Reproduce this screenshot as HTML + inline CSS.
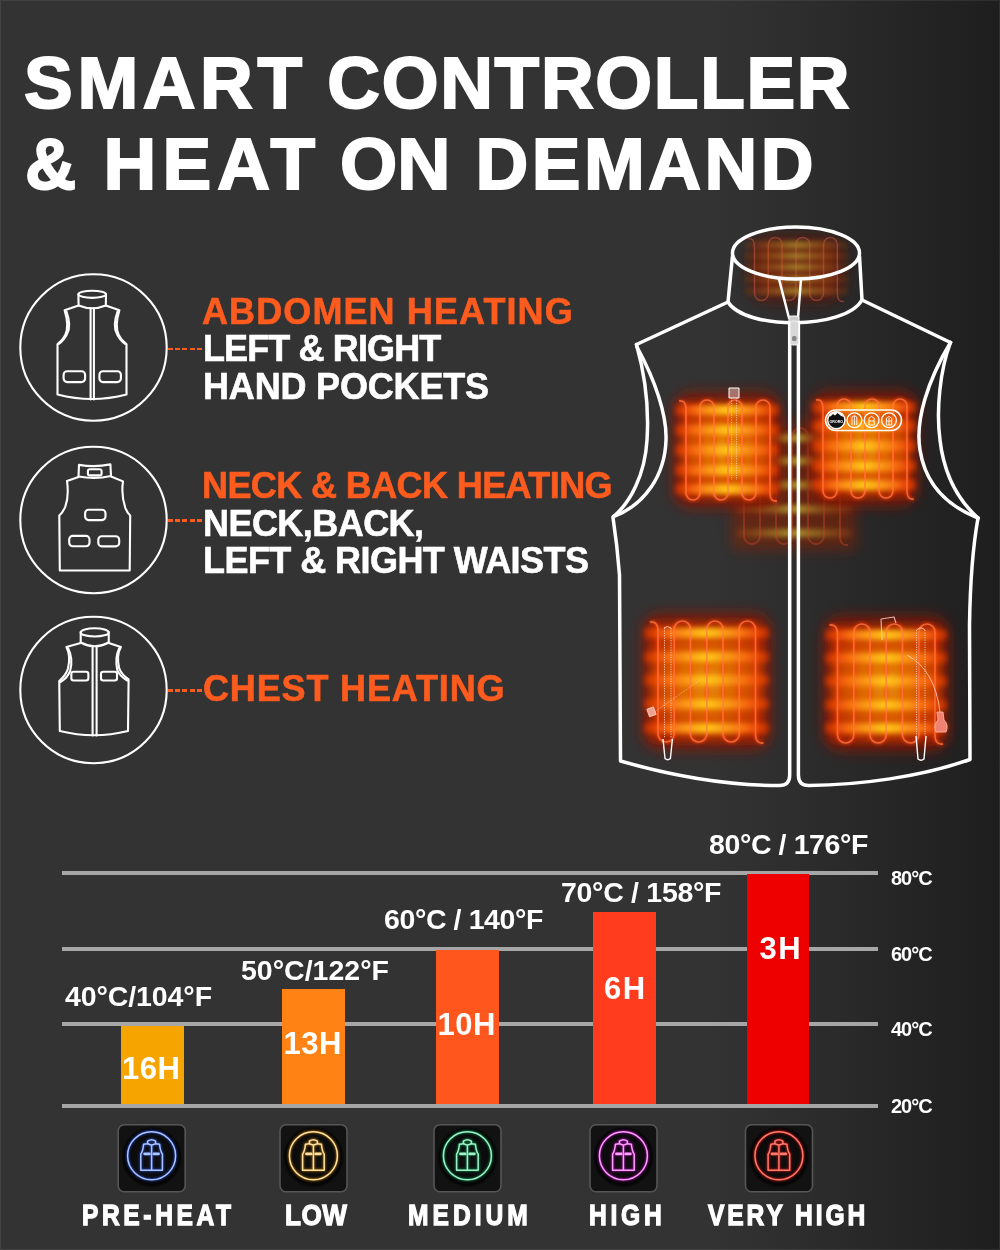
<!DOCTYPE html>
<html><head><meta charset="utf-8">
<style>
*{margin:0;padding:0;box-sizing:border-box}
html,body{width:1000px;height:1250px;overflow:hidden}
body{position:relative;background:linear-gradient(90deg,#333 0%,#333 71%,#2e2e2e 79%,#262626 89%,#1e1e1e 100%);font-family:"Liberation Sans",Arial,sans-serif;color:#fff}
.t{position:absolute;white-space:nowrap;font-weight:bold;line-height:1}
.title{font-size:73px;-webkit-text-stroke:2px #fff;transform-origin:0 0}
.or{color:#fe5b1e}
.sub{font-size:36px;left:201px;-webkit-text-stroke:0.6px currentColor}
.dash{position:absolute;height:2.5px;background:repeating-linear-gradient(90deg,#fe5b1e 0 5px,transparent 5px 7.2px)}
.grid{position:absolute;left:62px;width:816px;height:4px;background:#a6a6a6}
.bar{position:absolute}
.bl{font-size:28.5px}
.bh{font-size:31px;letter-spacing:0.5px}
.ax{font-size:20px;left:891px;letter-spacing:-1px}
.lab{font-size:30px;top:1200px;transform-origin:0 0;-webkit-text-stroke:1.3px #fff}
</style></head><body>
<!--ART--><svg id="art" width="1000" height="1250" viewBox="0 0 1000 1250" style="position:absolute;left:0;top:0">
<defs>
<filter id="b8" filterUnits="userSpaceOnUse" x="-1200" y="-1300" width="2400" height="2600"><feGaussianBlur stdDeviation="7"/></filter>
<filter id="b6" filterUnits="userSpaceOnUse" x="-1200" y="-1300" width="2400" height="2600"><feGaussianBlur stdDeviation="5"/></filter>
<filter id="b3" filterUnits="userSpaceOnUse" x="-1200" y="-1300" width="2400" height="2600"><feGaussianBlur stdDeviation="2.6"/></filter>
<filter id="b15" filterUnits="userSpaceOnUse" x="-1200" y="-1300" width="2400" height="2600"><feGaussianBlur stdDeviation="1.5"/></filter>
<filter id="b07" filterUnits="userSpaceOnUse" x="-1200" y="-1300" width="2400" height="2600"><feGaussianBlur stdDeviation="0.6"/></filter>
<filter id="glow" filterUnits="userSpaceOnUse" x="-1200" y="-1300" width="2400" height="2600"><feGaussianBlur stdDeviation="1.2" result="b"/><feMerge><feMergeNode in="b"/><feMergeNode in="SourceGraphic"/></feMerge></filter>
<radialGradient id="core" cx="50%" cy="50%" r="60%"><stop offset="0" stop-color="#e8900c"/><stop offset="0.45" stop-color="#dc6200"/><stop offset="1" stop-color="#b82600"/></radialGradient>
<linearGradient id="band" x1="0" x2="1" y1="0" y2="0"><stop offset="0" stop-color="#f03800" stop-opacity="0.5"/><stop offset="0.2" stop-color="#f87010"/><stop offset="0.5" stop-color="#ffc818"/><stop offset="0.8" stop-color="#f87010"/><stop offset="1" stop-color="#f03800" stop-opacity="0.5"/></linearGradient>
<linearGradient id="bandg" x1="0" x2="1" y1="0" y2="0"><stop offset="0" stop-color="#a04010" stop-opacity="0.35"/><stop offset="0.5" stop-color="#c0b030" stop-opacity="0.9"/><stop offset="1" stop-color="#a04010" stop-opacity="0.35"/></linearGradient>
<filter id="ig" filterUnits="userSpaceOnUse" x="-1200" y="-1300" width="2400" height="2600"><feGaussianBlur stdDeviation="1.1"/></filter>
<radialGradient id="btn" cx="50%" cy="50%" r="50%"><stop offset="0" stop-color="#101010"/><stop offset="0.78" stop-color="#0a0a0a"/><stop offset="0.9" stop-color="#050505"/><stop offset="1" stop-color="#050505" stop-opacity="0"/></radialGradient>
<linearGradient id="bandd" x1="0" x2="1" y1="0" y2="0"><stop offset="0" stop-color="#a04010" stop-opacity="0.2"/><stop offset="0.5" stop-color="#b8a030" stop-opacity="0.75"/><stop offset="1" stop-color="#a04010" stop-opacity="0.2"/></linearGradient>
</defs>
<g fill="none" stroke="#fff" stroke-width="2.1" stroke-linejoin="round" stroke-linecap="round">
<circle cx="93.5" cy="347.5" r="73.2"/>
<circle cx="93.5" cy="520" r="73.2"/>
<circle cx="93.5" cy="690" r="73.2"/>
<ellipse cx="92.2" cy="294.3" rx="13.8" ry="3.6"/>
<path d="M78.4,294.3 L78.6,305.5 Q92.2,311 105.8,305.5 L106,294.3"/>
<path d="M78.6,305.5 L64.6,310.2 C67,318 68.5,328 65.3,335 C63.5,339 60.5,342 57.5,344 L57.5,394.5 Q92,403.5 126.5,394.5 L126.5,344 C123.5,342 120.5,339 118.7,335 C115.5,328 117,318 119.4,310.2 L105.8,305.5"/>
<path d="M66.4,311.4 C69.5,320 70,329 67,334 C65,338.5 62,341.5 58.8,343.8 M117.6,311.4 C114.5,320 114,329 117,334 C119,338.5 122,341.5 125.2,343.8"/>
<path d="M90.6,308 L90.6,399.5 M93.9,308 L93.9,399.5"/>
<rect x="63.6" y="371.3" width="21.5" height="10.8" rx="3.5"/>
<rect x="99.4" y="371.3" width="21.5" height="10.8" rx="3.5"/>
<path d="M79,464.9 Q95,467.5 110.4,464.4 L111,476 Q95,479.5 78.5,476.5 Z"/>
<rect x="87.9" y="469.3" width="13.7" height="6.1" rx="2"/>
<path d="M78.5,477 L67,480.9 C68,488 68.5,498 65.3,506.7 C63.5,511 61.5,513.5 59.3,515.5 L59.8,570.5 L129.7,570.5 L130.2,515.5 C128,513.5 126.5,511 125.3,507.8 C122,498 122,488 123,481.4 L111,476.5"/>
<rect x="85.1" y="509.7" width="20.4" height="10.4" rx="3.5"/>
<rect x="69.2" y="535.9" width="20.3" height="10.4" rx="3.5"/>
<rect x="98.3" y="536.2" width="20.9" height="10.2" rx="3.5"/>
<ellipse cx="94.7" cy="632.4" rx="14" ry="4.1"/>
<path d="M80.7,632 L80.7,642.5 Q94.7,650 108.75,642.5 L108.75,632"/>
<path d="M80.7,643 L66.4,647 C69,652 70,660 68,668.4 C66.5,674 62.5,678 59.25,681 L59.8,731.1 Q94,739.5 128,731.1 L128.6,679.4 C125,677 121,673 119.2,668.4 C117.5,661 117.5,653 120.9,647 L108.75,643"/>
<path d="M68,648 C71,654 72.5,662 70.2,670.6 C68.5,676 64.5,679.5 60.5,682 M119.3,648 C116.5,654 115.5,662 117.3,670 C119,675 123,678 127.2,680.5"/>
<path d="M92.6,647 L92.6,735.5 M96.6,647 L96.6,735.5"/>
<rect x="71.35" y="671.7" width="17" height="8.8" rx="2.2"/>
<rect x="101" y="671.7" width="16" height="8.8" rx="2.2"/>
</g>
<clipPath id="cc"><ellipse cx="796" cy="253" rx="63.5" ry="26"/><path d="M732.5,253 L728,302 C745,330 845,330 862,300 L859.5,253 Z"/></clipPath>
<g clip-path="url(#cc)">
<g opacity="1">
<rect x="749" y="235.5" width="95" height="67.0" rx="20" fill="#5a1808" opacity="0.75" filter="url(#b8)"/>
<rect x="759" y="243.5" width="75" height="51.0" fill="#7a2808" opacity="0.6" filter="url(#b6)"/>
<rect x="745" y="241.5" width="103" height="7" fill="url(#bandd)" filter="url(#b3)"/>
<rect x="745" y="252.5" width="103" height="7" fill="url(#bandd)" filter="url(#b3)"/>
<rect x="745" y="263.5" width="103" height="7" fill="url(#bandd)" filter="url(#b3)"/>
<rect x="745" y="275.5" width="103" height="7" fill="url(#bandd)" filter="url(#b3)"/>
<rect x="745" y="287.5" width="103" height="7" fill="url(#bandd)" filter="url(#b3)"/>
<path d="M747.6,238.5 Q754.5,237.5 754.5,246.4 L754.5,293.6 A6.9,6.9 0 0 0 768.3,293.6 L768.3,244.4 A6.9,6.9 0 0 1 782.1,244.4 L782.1,293.6 A6.9,6.9 0 0 0 795.9,293.6 L795.9,244.4 A6.9,6.9 0 0 1 809.7,244.4 L809.7,293.6 A6.9,6.9 0 0 0 823.5,293.6 L823.5,244.4 A6.9,6.9 0 0 1 837.3,244.4 L837.3,293.6 Q837.3,302.5 844.2,301.5" fill="none" stroke="#d86040" stroke-width="1.5" opacity="0.45" filter="url(#b07)"/>
</g>
</g>
<g opacity="0.9">
<rect x="732" y="422" width="124" height="128" fill="#8a2000" opacity="0.6" filter="url(#b8)"/>
<rect x="736" y="434" width="116" height="8" fill="url(#bandg)" filter="url(#b3)"/>
<rect x="736" y="457" width="116" height="8" fill="url(#bandg)" filter="url(#b3)"/>
<rect x="736" y="481" width="116" height="8" fill="url(#bandg)" filter="url(#b3)"/>
<rect x="736" y="505" width="116" height="8" fill="url(#bandg)" filter="url(#b3)"/>
<rect x="736" y="529" width="116" height="8" fill="url(#bandg)" filter="url(#b3)"/>
<path d="M736.0,429.0 Q744.0,428.0 744.0,438.0 L744.0,536.0 A8.0,8.0 0 0 0 760.0,536.0 L760.0,436.0 A8.0,8.0 0 0 1 776.0,436.0 L776.0,536.0 A8.0,8.0 0 0 0 792.0,536.0 L792.0,436.0 A8.0,8.0 0 0 1 808.0,436.0 L808.0,536.0 A8.0,8.0 0 0 0 824.0,536.0 L824.0,436.0 A8.0,8.0 0 0 1 840.0,436.0 L840.0,536.0 Q840.0,546.0 848.0,545.0" fill="none" stroke="#d84a28" stroke-width="1.8" opacity="0.45" filter="url(#b07)"/>
</g>
<g opacity="1.0">
<rect x="673" y="392" width="108" height="116" rx="18" fill="#8a1600" opacity="0.8" filter="url(#b8)"/>
<rect x="681" y="403" width="92" height="94" fill="url(#core)" filter="url(#b6)"/>
<path d="M679.0,401.0 Q686.0,400.0 686.0,409.0 L686.0,493.0 A7.0,7.0 0 0 0 700.0,493.0 L700.0,407.0 A7.0,7.0 0 0 1 714.0,407.0 L714.0,493.0 A7.0,7.0 0 0 0 728.0,493.0 L728.0,407.0 A7.0,7.0 0 0 1 742.0,407.0 L742.0,493.0 A7.0,7.0 0 0 0 756.0,493.0 L756.0,407.0 A7.0,7.0 0 0 1 770.0,407.0 L770.0,493.0 Q770.0,502.0 777.0,501.0" fill="none" stroke="#ff3a10" stroke-width="3.5" opacity="0.55" filter="url(#b15)"/>
<rect x="675" y="405" width="104" height="10" fill="url(#band)" filter="url(#b3)"/>
<rect x="675" y="425" width="104" height="10" fill="url(#band)" filter="url(#b3)"/>
<rect x="675" y="445" width="104" height="10" fill="url(#band)" filter="url(#b3)"/>
<rect x="675" y="465" width="104" height="10" fill="url(#band)" filter="url(#b3)"/>
<rect x="675" y="484" width="104" height="10" fill="url(#band)" filter="url(#b3)"/>
<path d="M679.0,401.0 Q686.0,400.0 686.0,409.0 L686.0,493.0 A7.0,7.0 0 0 0 700.0,493.0 L700.0,407.0 A7.0,7.0 0 0 1 714.0,407.0 L714.0,493.0 A7.0,7.0 0 0 0 728.0,493.0 L728.0,407.0 A7.0,7.0 0 0 1 742.0,407.0 L742.0,493.0 A7.0,7.0 0 0 0 756.0,493.0 L756.0,407.0 A7.0,7.0 0 0 1 770.0,407.0 L770.0,493.0 Q770.0,502.0 777.0,501.0" fill="none" stroke="#ff7a40" stroke-width="1.6" opacity="0.75" filter="url(#b07)"/>
</g>
<g opacity="1.0">
<rect x="810" y="391" width="108" height="115" rx="18" fill="#8a1600" opacity="0.8" filter="url(#b8)"/>
<rect x="818" y="402" width="92" height="93" fill="url(#core)" filter="url(#b6)"/>
<path d="M816.0,400.0 Q823.0,399.0 823.0,408.0 L823.0,491.0 A7.0,7.0 0 0 0 837.0,491.0 L837.0,406.0 A7.0,7.0 0 0 1 851.0,406.0 L851.0,491.0 A7.0,7.0 0 0 0 865.0,491.0 L865.0,406.0 A7.0,7.0 0 0 1 879.0,406.0 L879.0,491.0 A7.0,7.0 0 0 0 893.0,491.0 L893.0,406.0 A7.0,7.0 0 0 1 907.0,406.0 L907.0,491.0 Q907.0,500.0 914.0,499.0" fill="none" stroke="#ff3a10" stroke-width="3.5" opacity="0.55" filter="url(#b15)"/>
<rect x="812" y="402" width="104" height="10" fill="url(#band)" filter="url(#b3)"/>
<rect x="812" y="421" width="104" height="10" fill="url(#band)" filter="url(#b3)"/>
<rect x="812" y="441" width="104" height="10" fill="url(#band)" filter="url(#b3)"/>
<rect x="812" y="461" width="104" height="10" fill="url(#band)" filter="url(#b3)"/>
<rect x="812" y="480" width="104" height="10" fill="url(#band)" filter="url(#b3)"/>
<path d="M816.0,400.0 Q823.0,399.0 823.0,408.0 L823.0,491.0 A7.0,7.0 0 0 0 837.0,491.0 L837.0,406.0 A7.0,7.0 0 0 1 851.0,406.0 L851.0,491.0 A7.0,7.0 0 0 0 865.0,491.0 L865.0,406.0 A7.0,7.0 0 0 1 879.0,406.0 L879.0,491.0 A7.0,7.0 0 0 0 893.0,491.0 L893.0,406.0 A7.0,7.0 0 0 1 907.0,406.0 L907.0,491.0 Q907.0,500.0 914.0,499.0" fill="none" stroke="#ff7a40" stroke-width="1.6" opacity="0.75" filter="url(#b07)"/>
</g>
<g opacity="1.0">
<rect x="642" y="613" width="129" height="137" rx="18" fill="#8a1600" opacity="0.8" filter="url(#b8)"/>
<rect x="650" y="624" width="113" height="115" fill="url(#core)" filter="url(#b6)"/>
<path d="M649.9,622.0 Q658.0,621.0 658.0,631.1 L658.0,733.9 A8.1,8.1 0 0 0 674.2,733.9 L674.2,629.1 A8.1,8.1 0 0 1 690.5,629.1 L690.5,733.9 A8.1,8.1 0 0 0 706.8,733.9 L706.8,629.1 A8.1,8.1 0 0 1 723.0,629.1 L723.0,733.9 A8.1,8.1 0 0 0 739.2,733.9 L739.2,629.1 A8.1,8.1 0 0 1 755.5,629.1 L755.5,733.9 Q755.5,744.0 763.6,743.0" fill="none" stroke="#ff3a10" stroke-width="3.5" opacity="0.55" filter="url(#b15)"/>
<rect x="644" y="628" width="125" height="10" fill="url(#band)" filter="url(#b3)"/>
<rect x="644" y="652" width="125" height="10" fill="url(#band)" filter="url(#b3)"/>
<rect x="644" y="675" width="125" height="10" fill="url(#band)" filter="url(#b3)"/>
<rect x="644" y="699" width="125" height="10" fill="url(#band)" filter="url(#b3)"/>
<rect x="644" y="723" width="125" height="10" fill="url(#band)" filter="url(#b3)"/>
<path d="M649.9,622.0 Q658.0,621.0 658.0,631.1 L658.0,733.9 A8.1,8.1 0 0 0 674.2,733.9 L674.2,629.1 A8.1,8.1 0 0 1 690.5,629.1 L690.5,733.9 A8.1,8.1 0 0 0 706.8,733.9 L706.8,629.1 A8.1,8.1 0 0 1 723.0,629.1 L723.0,733.9 A8.1,8.1 0 0 0 739.2,733.9 L739.2,629.1 A8.1,8.1 0 0 1 755.5,629.1 L755.5,733.9 Q755.5,744.0 763.6,743.0" fill="none" stroke="#ff7a40" stroke-width="1.6" opacity="0.75" filter="url(#b07)"/>
</g>
<g opacity="1.0">
<rect x="823" y="616" width="126" height="135" rx="18" fill="#8a1600" opacity="0.8" filter="url(#b8)"/>
<rect x="831" y="627" width="110" height="113" fill="url(#core)" filter="url(#b6)"/>
<path d="M829.4,625.0 Q837.5,624.0 837.5,634.1 L837.5,734.9 A8.1,8.1 0 0 0 853.8,734.9 L853.8,632.1 A8.1,8.1 0 0 1 870.0,632.1 L870.0,734.9 A8.1,8.1 0 0 0 886.2,734.9 L886.2,632.1 A8.1,8.1 0 0 1 902.5,632.1 L902.5,734.9 A8.1,8.1 0 0 0 918.8,734.9 L918.8,632.1 A8.1,8.1 0 0 1 935.0,632.1 L935.0,734.9 Q935.0,745.0 943.1,744.0" fill="none" stroke="#ff3a10" stroke-width="3.5" opacity="0.55" filter="url(#b15)"/>
<rect x="825" y="630" width="122" height="10" fill="url(#band)" filter="url(#b3)"/>
<rect x="825" y="653" width="122" height="10" fill="url(#band)" filter="url(#b3)"/>
<rect x="825" y="676" width="122" height="10" fill="url(#band)" filter="url(#b3)"/>
<rect x="825" y="700" width="122" height="10" fill="url(#band)" filter="url(#b3)"/>
<rect x="825" y="723" width="122" height="10" fill="url(#band)" filter="url(#b3)"/>
<path d="M829.4,625.0 Q837.5,624.0 837.5,634.1 L837.5,734.9 A8.1,8.1 0 0 0 853.8,734.9 L853.8,632.1 A8.1,8.1 0 0 1 870.0,632.1 L870.0,734.9 A8.1,8.1 0 0 0 886.2,734.9 L886.2,632.1 A8.1,8.1 0 0 1 902.5,632.1 L902.5,734.9 A8.1,8.1 0 0 0 918.8,734.9 L918.8,632.1 A8.1,8.1 0 0 1 935.0,632.1 L935.0,734.9 Q935.0,745.0 943.1,744.0" fill="none" stroke="#ff7a40" stroke-width="1.6" opacity="0.75" filter="url(#b07)"/>
</g>
<g fill="none" stroke="#fff" stroke-linejoin="round">
<path d="M663,739 L665,758.5 Q667.7,761 670.4,758.5 L672.4,739" stroke-width="1.4"/>
<path d="M664.5,628 L664.5,738 M671,628 L671,738" stroke="#ffd0c0" stroke-width="1" stroke-dasharray="1.2 1.2" opacity="0.85"/>
<path d="M664,628 Q667.5,625 671,628" stroke="#ffd0c0" stroke-width="1" opacity="0.85"/>
<path d="M916,736 L918,759 Q921,761.5 924,759 L926,736" stroke-width="1.4"/>
<path d="M916.5,630 L916.5,736 M925,630 L925,736" stroke="#ffd0c0" stroke-width="1" stroke-dasharray="1.2 1.2" opacity="0.85"/>
<path d="M916.5,630 Q921,626 925,630" stroke="#ffd0c0" stroke-width="1" opacity="0.85"/>
<path d="M907,655 Q935,670 940,712" stroke="#ffd8c8" stroke-width="0.9" opacity="0.85"/>
<path d="M937,712 L943,712 L944,720 Q949,725 946,732 L936,732 Q933,725 938,720 Z" fill="#f08070" stroke="#ffc0b0" stroke-width="0.8"/>
<path d="M881,619 L894,617 L896,623 M881,619 L882,640" stroke="#ffd0c0" stroke-width="1.1" opacity="0.85"/>
<path d="M700,680 L653,713" stroke="#ffd8c8" stroke-width="0.7" stroke-dasharray="1 1" opacity="0.8"/>
<rect x="648" y="708" width="7" height="8" transform="rotate(-20 651 712)" fill="#f0a090" stroke="#ffd0c0" stroke-width="0.8"/>
<path d="M729,388 L739,388 L739,398 L729,398 Z" fill="#d8a8a0" fill-opacity="0.6" stroke="#fff" stroke-width="1"/>
<path d="M731.5,398 L731.5,480 M736.5,398 L736.5,480" stroke="#ffd0c0" stroke-width="0.9" stroke-dasharray="1.2 1.2" opacity="0.8"/>
</g>
<g fill="none" stroke="#fff" stroke-width="3.5" stroke-linejoin="round" stroke-linecap="round">
<ellipse cx="796" cy="253" rx="63.5" ry="26"/>
<path d="M732.5,256 L728,302 C745,330 845,330 862,300 L859.5,256"/>
<path d="M728,302 L636.5,344.5 M862,300 L950.5,342.5"/>
<path d="M636.5,344.5 C645,375 649,410 647,440 C645,475 630,503 613.5,516.5"/>
<path d="M637,347 C655,380 667,415 666,440 C665,475 645,505 613.5,516.5"/>
<path d="M950.5,342.5 C928,380 915,420 920,450 C925,482 945,505 978,518"/>
<path d="M950.5,342.5 C940,370 936,410 940,440 C944,475 958,500 978,518"/>
<path d="M613,517.5 Q617.2,545 619.5,575 L620.5,761 C680,778 735,785.5 779.5,785.5 Q789.7,785.5 789.7,775 L789.7,322"/>
<path d="M798.4,322 L798.4,775 Q798.4,785.5 808.6,785.5 C860,785 920,777 970,759.5 L969.5,625 Q970.5,560 978,518"/>
<path d="M779,279 L789,318 M801,279 L798,318" stroke-width="2.5"/>
</g>
<g fill="#e8e8e8" stroke="#fff" stroke-width="1">
<rect x="789" y="316" width="10" height="7" rx="2" fill="#ccc"/>
<rect x="790" y="321" width="8.5" height="24" rx="2.5" fill="#d8d8d8" stroke="#f4f4f4"/>
<rect x="792" y="336" width="4.5" height="5" rx="1.5" fill="#888" stroke="none"/>
</g>
<g>
<rect x="825.5" y="410" width="76" height="20.5" rx="10.2" fill="#ff7a10" fill-opacity="0.25" stroke="#fff" stroke-width="1.6"/>
<circle cx="836.3" cy="420.2" r="8.6" fill="#111" stroke="#fff" stroke-width="1.4"/>
<path d="M829.2,416.5 A7.6,7.6 0 0 1 843.4,416.5 Z" fill="#fff"/>
<path d="M829,418 L833,414 L835,415.5 L837.5,413 L843.6,418 Z" fill="#111"/>
<text x="836.3" y="422.6" font-family="Liberation Sans, sans-serif" font-weight="bold" font-size="3.6" fill="#fff" text-anchor="middle">ORORO</text>
<circle cx="854.4" cy="420.2" r="7.4" fill="none" stroke="#fff" stroke-width="1.3"/>
<circle cx="871.6" cy="420.2" r="7.4" fill="none" stroke="#fff" stroke-width="1.3"/>
<circle cx="889" cy="420.2" r="7.4" fill="none" stroke="#fff" stroke-width="1.3"/>
<path d="M852,425 L852,417 Q854.4,414 856.8,417 L856.8,425 M854.4,416 L854.4,425" fill="none" stroke="#fff" stroke-width="0.9"/>
<path d="M869,425 L869,418 Q871.6,415 874.2,418 L874.2,425 Z M869,421 L874.2,421" fill="none" stroke="#fff" stroke-width="0.9"/>
<path d="M886.4,425 L886.4,418 Q889,415 891.6,418 L891.6,425 Z M889,418 L889,425 M886.4,421 L891.6,421" fill="none" stroke="#fff" stroke-width="0.9"/>
</g>
<g>
<rect x="118.2" y="1124.8" width="67" height="67" rx="6" fill="#121212" stroke="#565656" stroke-width="1.6"/>
<circle cx="151.7" cy="1157" r="31" fill="url(#btn)"/>
<g transform="translate(151.6,1155.7)" fill="none" stroke-linejoin="round" stroke-linecap="round">
<g stroke="#2f55ff" stroke-width="2.8" opacity="0.6" filter="url(#ig)"><circle cx="0" cy="0" r="24"/><path d="M-4,-12 L-4,-14.5 Q0,-17.5 4,-14.5 L4,-12"/><path d="M-4,-12 L-8,-11.5 Q-8.5,-5 -10.8,-1.5 L-10.8,14.5 L10.8,14.5 L10.8,-1.5 Q8.5,-5 8,-11.5 L4,-12 Q0,-9.5 -4,-12 Z"/><path d="M0,-10 L0,14.5"/><path d="M-7,-1.8 L-2.2,-1.8 M2.2,-1.8 L7,-1.8" stroke-width="2.6"/></g>
<g stroke="#a9c6ff" stroke-width="1.5"><circle cx="0" cy="0" r="24"/><path d="M-4,-12 L-4,-14.5 Q0,-17.5 4,-14.5 L4,-12"/><path d="M-4,-12 L-8,-11.5 Q-8.5,-5 -10.8,-1.5 L-10.8,14.5 L10.8,14.5 L10.8,-1.5 Q8.5,-5 8,-11.5 L4,-12 Q0,-9.5 -4,-12 Z"/><path d="M0,-10 L0,14.5"/><path d="M-7,-1.8 L-2.2,-1.8 M2.2,-1.8 L7,-1.8" stroke-width="2.6"/></g>
</g>
<rect x="280" y="1124.8" width="67" height="67" rx="6" fill="#121212" stroke="#565656" stroke-width="1.6"/>
<circle cx="313.5" cy="1157" r="31" fill="url(#btn)"/>
<g transform="translate(313.4,1155.7)" fill="none" stroke-linejoin="round" stroke-linecap="round">
<g stroke="#d88a10" stroke-width="2.8" opacity="0.6" filter="url(#ig)"><circle cx="0" cy="0" r="24"/><path d="M-4,-12 L-4,-14.5 Q0,-17.5 4,-14.5 L4,-12"/><path d="M-4,-12 L-8,-11.5 Q-8.5,-5 -10.8,-1.5 L-10.8,14.5 L10.8,14.5 L10.8,-1.5 Q8.5,-5 8,-11.5 L4,-12 Q0,-9.5 -4,-12 Z"/><path d="M0,-10 L0,14.5"/><path d="M-7,-1.8 L-2.2,-1.8 M2.2,-1.8 L7,-1.8" stroke-width="2.6"/></g>
<g stroke="#ffe2a0" stroke-width="1.5"><circle cx="0" cy="0" r="24"/><path d="M-4,-12 L-4,-14.5 Q0,-17.5 4,-14.5 L4,-12"/><path d="M-4,-12 L-8,-11.5 Q-8.5,-5 -10.8,-1.5 L-10.8,14.5 L10.8,14.5 L10.8,-1.5 Q8.5,-5 8,-11.5 L4,-12 Q0,-9.5 -4,-12 Z"/><path d="M0,-10 L0,14.5"/><path d="M-7,-1.8 L-2.2,-1.8 M2.2,-1.8 L7,-1.8" stroke-width="2.6"/></g>
</g>
<rect x="434" y="1124.8" width="67" height="67" rx="6" fill="#121212" stroke="#565656" stroke-width="1.6"/>
<circle cx="467.5" cy="1157" r="31" fill="url(#btn)"/>
<g transform="translate(467.4,1155.7)" fill="none" stroke-linejoin="round" stroke-linecap="round">
<g stroke="#10b060" stroke-width="2.8" opacity="0.6" filter="url(#ig)"><circle cx="0" cy="0" r="24"/><path d="M-4,-12 L-4,-14.5 Q0,-17.5 4,-14.5 L4,-12"/><path d="M-4,-12 L-8,-11.5 Q-8.5,-5 -10.8,-1.5 L-10.8,14.5 L10.8,14.5 L10.8,-1.5 Q8.5,-5 8,-11.5 L4,-12 Q0,-9.5 -4,-12 Z"/><path d="M0,-10 L0,14.5"/><path d="M-7,-1.8 L-2.2,-1.8 M2.2,-1.8 L7,-1.8" stroke-width="2.6"/></g>
<g stroke="#9ff2c8" stroke-width="1.5"><circle cx="0" cy="0" r="24"/><path d="M-4,-12 L-4,-14.5 Q0,-17.5 4,-14.5 L4,-12"/><path d="M-4,-12 L-8,-11.5 Q-8.5,-5 -10.8,-1.5 L-10.8,14.5 L10.8,14.5 L10.8,-1.5 Q8.5,-5 8,-11.5 L4,-12 Q0,-9.5 -4,-12 Z"/><path d="M0,-10 L0,14.5"/><path d="M-7,-1.8 L-2.2,-1.8 M2.2,-1.8 L7,-1.8" stroke-width="2.6"/></g>
</g>
<rect x="590" y="1124.8" width="67" height="67" rx="6" fill="#121212" stroke="#565656" stroke-width="1.6"/>
<circle cx="623.5" cy="1157" r="31" fill="url(#btn)"/>
<g transform="translate(623.4,1155.7)" fill="none" stroke-linejoin="round" stroke-linecap="round">
<g stroke="#d010d0" stroke-width="2.8" opacity="0.6" filter="url(#ig)"><circle cx="0" cy="0" r="24"/><path d="M-4,-12 L-4,-14.5 Q0,-17.5 4,-14.5 L4,-12"/><path d="M-4,-12 L-8,-11.5 Q-8.5,-5 -10.8,-1.5 L-10.8,14.5 L10.8,14.5 L10.8,-1.5 Q8.5,-5 8,-11.5 L4,-12 Q0,-9.5 -4,-12 Z"/><path d="M0,-10 L0,14.5"/><path d="M-7,-1.8 L-2.2,-1.8 M2.2,-1.8 L7,-1.8" stroke-width="2.6"/></g>
<g stroke="#ff9cff" stroke-width="1.5"><circle cx="0" cy="0" r="24"/><path d="M-4,-12 L-4,-14.5 Q0,-17.5 4,-14.5 L4,-12"/><path d="M-4,-12 L-8,-11.5 Q-8.5,-5 -10.8,-1.5 L-10.8,14.5 L10.8,14.5 L10.8,-1.5 Q8.5,-5 8,-11.5 L4,-12 Q0,-9.5 -4,-12 Z"/><path d="M0,-10 L0,14.5"/><path d="M-7,-1.8 L-2.2,-1.8 M2.2,-1.8 L7,-1.8" stroke-width="2.6"/></g>
</g>
<rect x="745.5" y="1124.8" width="67" height="67" rx="6" fill="#121212" stroke="#565656" stroke-width="1.6"/>
<circle cx="779.0" cy="1157" r="31" fill="url(#btn)"/>
<g transform="translate(778.9,1155.7)" fill="none" stroke-linejoin="round" stroke-linecap="round">
<g stroke="#ff1a1a" stroke-width="2.8" opacity="0.6" filter="url(#ig)"><circle cx="0" cy="0" r="24"/><path d="M-4,-12 L-4,-14.5 Q0,-17.5 4,-14.5 L4,-12"/><path d="M-4,-12 L-8,-11.5 Q-8.5,-5 -10.8,-1.5 L-10.8,14.5 L10.8,14.5 L10.8,-1.5 Q8.5,-5 8,-11.5 L4,-12 Q0,-9.5 -4,-12 Z"/><path d="M0,-10 L0,14.5"/><path d="M-7,-1.8 L-2.2,-1.8 M2.2,-1.8 L7,-1.8" stroke-width="2.6"/></g>
<g stroke="#ff7a6a" stroke-width="1.5"><circle cx="0" cy="0" r="24"/><path d="M-4,-12 L-4,-14.5 Q0,-17.5 4,-14.5 L4,-12"/><path d="M-4,-12 L-8,-11.5 Q-8.5,-5 -10.8,-1.5 L-10.8,14.5 L10.8,14.5 L10.8,-1.5 Q8.5,-5 8,-11.5 L4,-12 Q0,-9.5 -4,-12 Z"/><path d="M0,-10 L0,14.5"/><path d="M-7,-1.8 L-2.2,-1.8 M2.2,-1.8 L7,-1.8" stroke-width="2.6"/></g>
</g>
</g>
</svg><!--/ART-->

<!--TITLE-->
<div class="t title" style="top:46px;left:24.1px;letter-spacing:4.6px">SMART</div>
<div class="t title" style="top:46px;left:327.2px;letter-spacing:1.72px">CONTROLLER</div>
<div class="t title" style="top:127px;left:25.3px;transform:scaleX(0.97)">&amp;</div>
<div class="t title" style="top:127px;left:103.6px;letter-spacing:6.07px">HEAT</div>
<div class="t title" style="top:127px;left:340.2px;transform:scaleX(1.008)">ON</div>
<div class="t title" style="top:127px;left:475.5px;letter-spacing:3.54px">DEMAND</div>
<!--/TITLE-->

<!-- left text -->
<div class="t sub or" style="top:294px;left:202px;letter-spacing:1.1px">ABDOMEN HEATING</div>
<div class="t sub" style="top:331px;left:203px;letter-spacing:-0.88px">LEFT &amp; RIGHT</div>
<div class="t sub" style="top:369px;left:203px;letter-spacing:-0.18px">HAND POCKETS</div>
<div class="t sub or" style="top:468px;left:202px;letter-spacing:-0.6px">NECK &amp; BACK HEATING</div>
<div class="t sub" style="top:506px;left:203px;letter-spacing:-0.55px">NECK,BACK,</div>
<div class="t sub" style="top:543px;left:203px;letter-spacing:-0.56px">LEFT &amp; RIGHT WAISTS</div>
<div class="t sub or" style="top:671px;left:203px;letter-spacing:0.85px">CHEST HEATING</div>
<div class="dash" style="left:168px;width:34px;top:347.7px"></div>
<div class="dash" style="left:168px;width:34px;top:519px"></div>
<div class="dash" style="left:168px;width:34px;top:689px"></div>

<!-- chart -->
<div class="grid" style="top:871px"></div>
<div class="grid" style="top:947px"></div>
<div class="grid" style="top:1022px"></div>
<div class="grid" style="top:1104px"></div>
<div class="bar" style="left:121px;width:63px;top:1026px;height:78px;background:#f6a400"></div>
<div class="bar" style="left:282px;width:63px;top:989px;height:115px;background:#ff8214"></div>
<div class="bar" style="left:436px;width:63px;top:950px;height:154px;background:#ff561e"></div>
<div class="bar" style="left:593px;width:63px;top:912px;height:192px;background:#ff3c1e"></div>
<div class="bar" style="left:747px;width:62px;top:874px;height:230px;background:#ee0000"></div>

<div class="t bl" style="left:65px;top:982px;letter-spacing:-0.1px">40°C/104°F</div>
<div class="t bl" style="left:241px;top:956px;letter-spacing:0px">50°C/122°F</div>
<div class="t bl" style="left:384px;top:905px;letter-spacing:-0.4px">60°C / 140°F</div>
<div class="t bl" style="left:561px;top:878px;letter-spacing:-0.3px">70°C / 158°F</div>
<div class="t bl" style="left:709px;top:830px;letter-spacing:-0.4px">80°C / 176°F</div>

<div class="t bh" style="left:122px;top:1052.5px">16H</div>
<div class="t bh" style="left:283.5px;top:1027.5px">13H</div>
<div class="t bh" style="left:437.5px;top:1008.5px">10H</div>
<div class="t bh" style="left:604px;top:972.5px;letter-spacing:1.5px">6H</div>
<div class="t bh" style="left:759.5px;top:932.5px;letter-spacing:1.5px">3H</div>

<div class="t ax" style="top:868px">80°C</div>
<div class="t ax" style="top:944px">60°C</div>
<div class="t ax" style="top:1019px">40°C</div>
<div class="t ax" style="top:1096px">20°C</div>

<!-- bottom boxes -->

<div class="t lab" style="left:81.8px;letter-spacing:4.38px;transform:scaleX(0.82)">PRE-HEAT</div>
<div class="t lab" style="left:285.1px;letter-spacing:0.58px;transform:scaleX(0.87)">LOW</div>
<div class="t lab" style="left:408.4px;letter-spacing:4.89px;transform:scaleX(0.82)">MEDIUM</div>
<div class="t lab" style="left:589.4px;letter-spacing:4.57px;transform:scaleX(0.82)">HIGH</div>
<div class="t lab" style="left:708.0px;letter-spacing:3.54px;transform:scaleX(0.82)">VERY HIGH</div>

<div style="position:absolute;left:0;top:0;width:1000px;height:1250px;border:1px solid rgba(255,255,255,0.08)"></div>
</body></html>
